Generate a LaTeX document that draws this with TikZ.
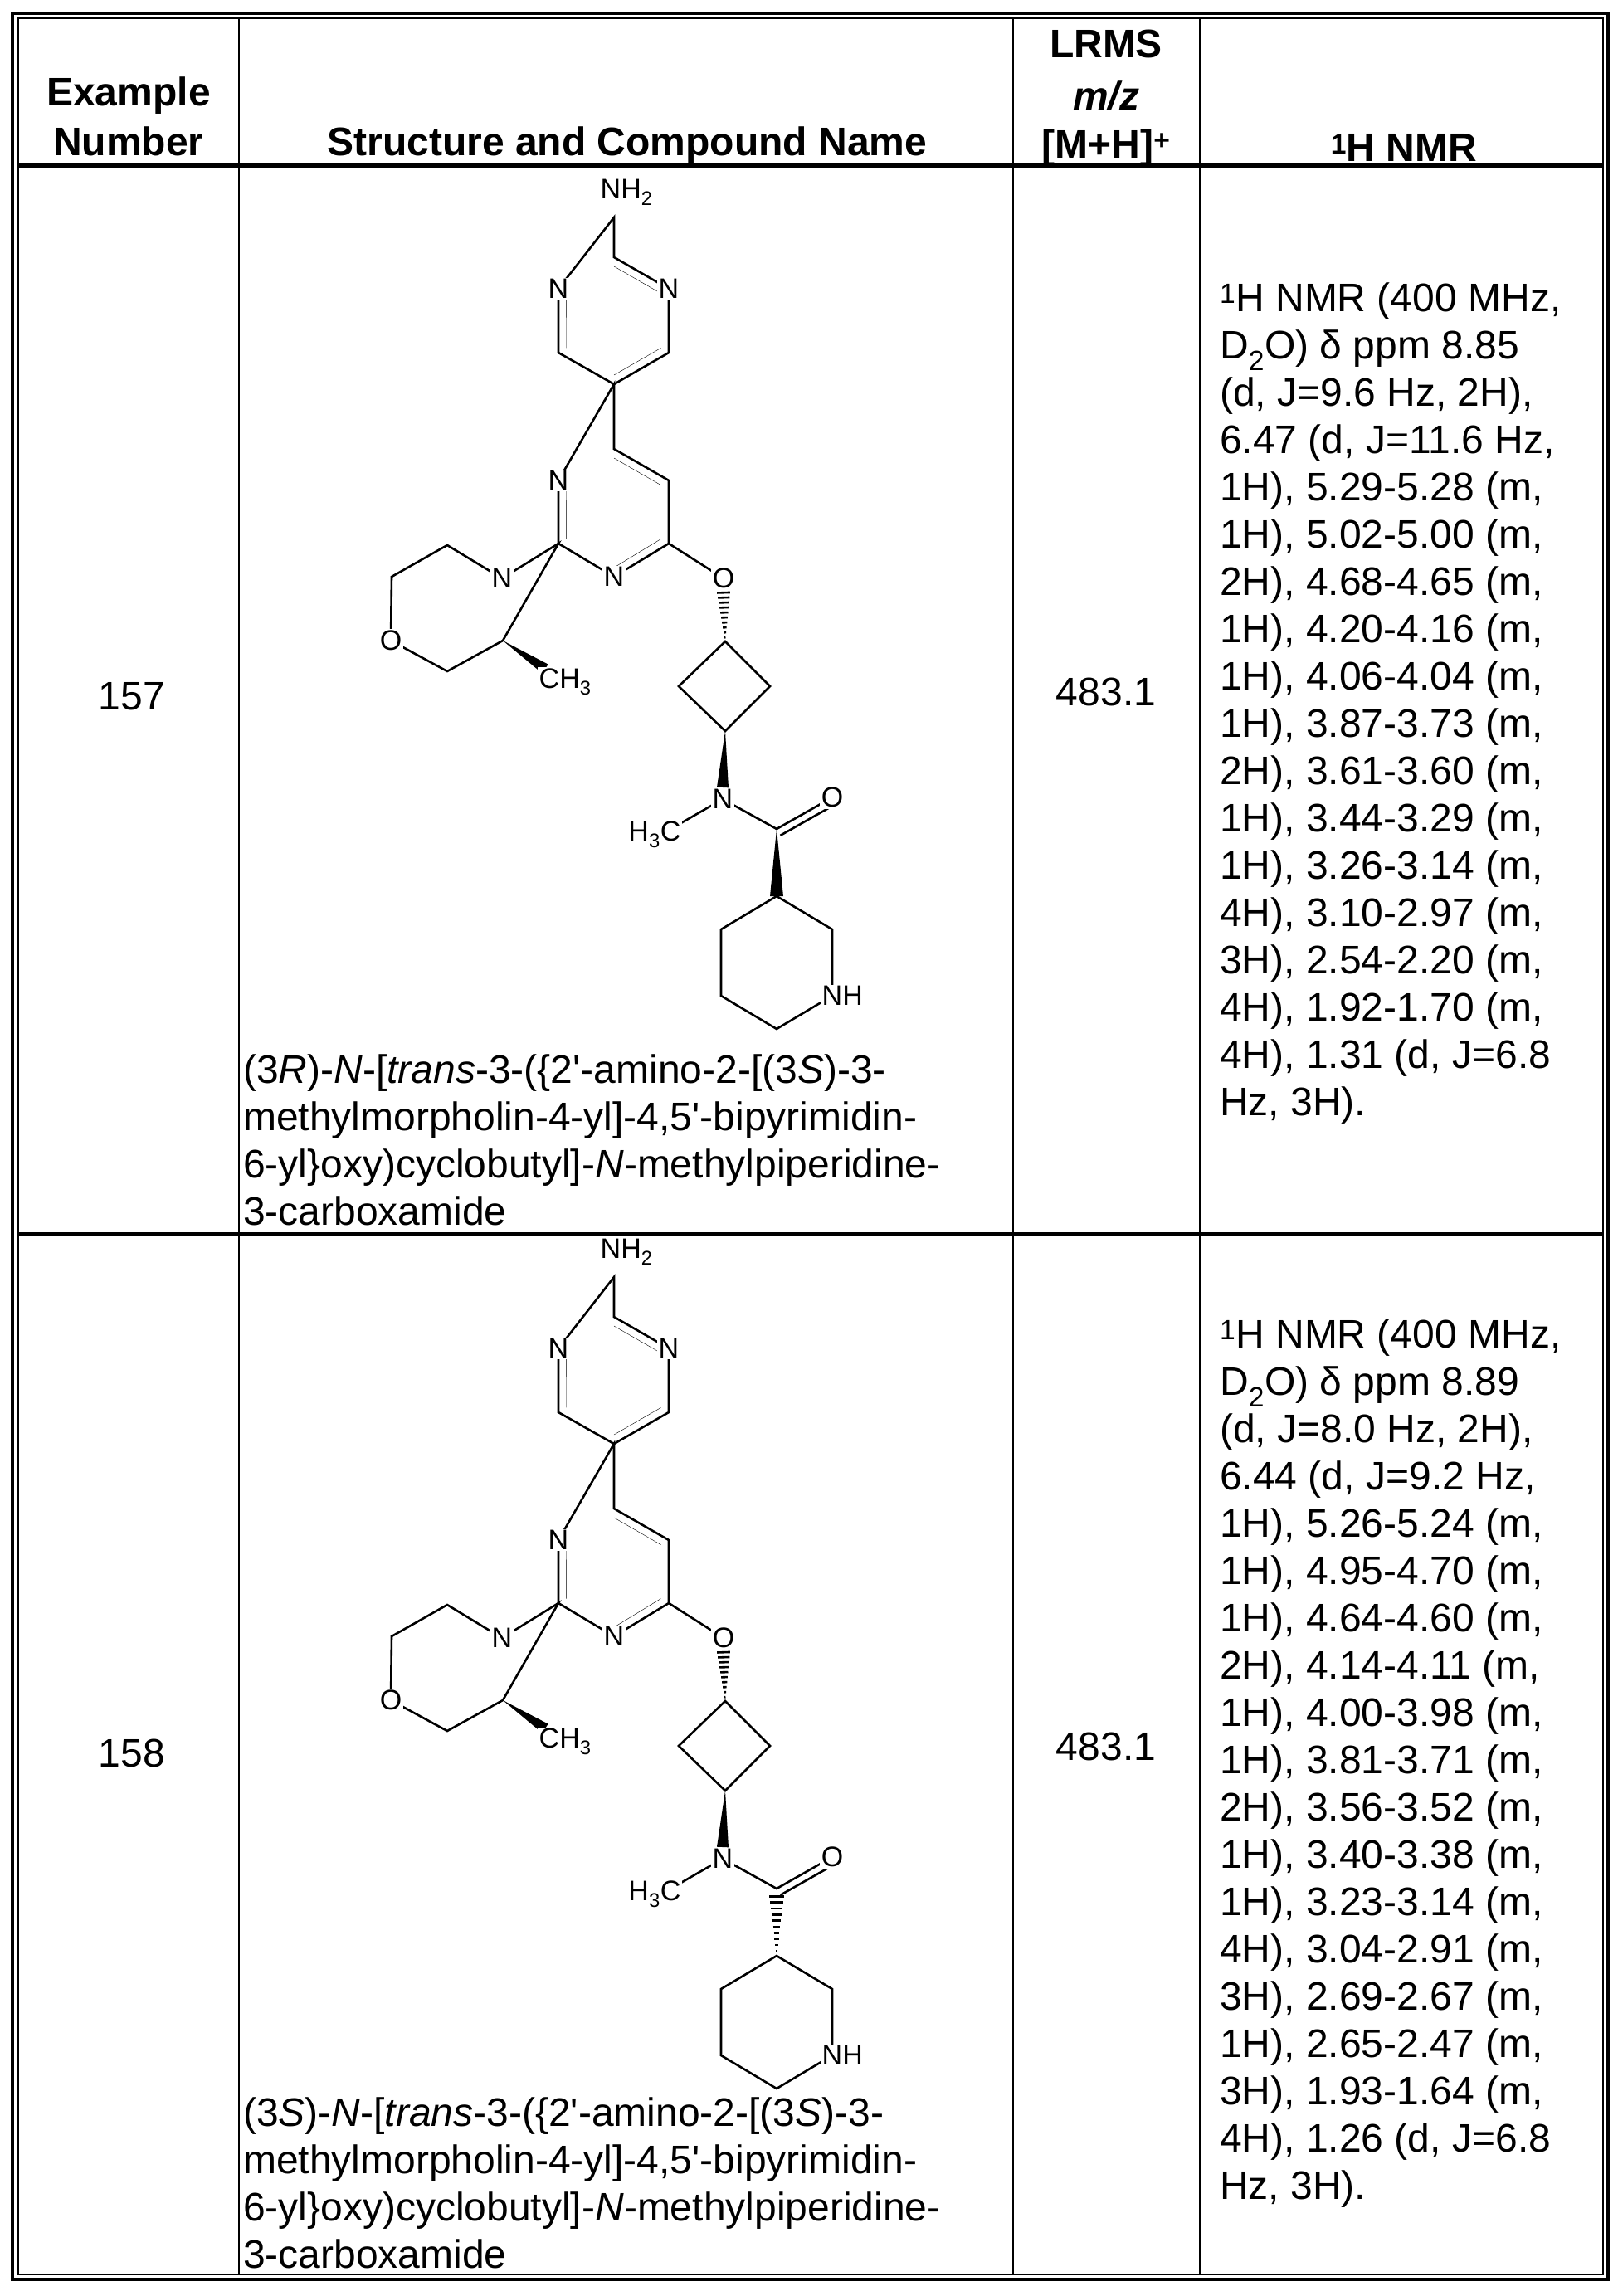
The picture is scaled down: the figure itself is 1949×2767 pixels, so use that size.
\documentclass[tikz,border=0pt]{standalone}
\usepackage{fontspec}
\setmainfont{Liberation Sans}
\usetikzlibrary{calc}
\newcommand\chemf{\fontsize{34}{40}\selectfont}
\newcommand\txtf{\fontsize{48}{57}\selectfont}
\newcommand\wedgeb[3]{\fill (#1) -- ($(#2)!#3!90:(#1)$) -- ($(#2)!#3!-90:(#1)$) -- cycle;}
\newcommand\hashb[3]{\foreach \t in {0.08,0.18,...,1.0}{\draw[line width=2.6pt] ($(#1)!\t!(#2)!{\t*#3}!90:(#2)$) -- ($(#1)!\t!(#2)!{\t*#3}!-90:(#2)$);}}
\newcommand\dbl[3]{\draw ($(#1)!11pt!(#3)$) -- ($(#2)!11pt!(#3)$);}
\newcommand\molecule[2]{%
 \coordinate (#1nh) at (740,262);
 \coordinate (#1a2) at (740,310); \coordinate (#1an1) at (673,348); \coordinate (#1an3) at (806,348);
 \coordinate (#1ac6) at (673,425); \coordinate (#1ac4) at (806,425); \coordinate (#1ac5) at (740,463);
 \coordinate (#1actr) at (740,386);
 \coordinate (#1b4) at (740,541); \coordinate (#1bn3) at (673,579); \coordinate (#1bc5) at (806,579);
 \coordinate (#1bc2) at (673,655); \coordinate (#1bc6) at (806,655); \coordinate (#1bn1) at (740,695);
 \coordinate (#1bctr) at (740,618);
 \coordinate (#1eo) at (872,697);
 \coordinate (#1mn) at (605,697); \coordinate (#1m1) at (539,657); \coordinate (#1m2) at (472,695);
 \coordinate (#1mo) at (471,772); \coordinate (#1m3) at (539,809); \coordinate (#1mc3) at (606,772);
 \coordinate (#1me) at (657,806);
 \coordinate (#1ct) at (874,773); \coordinate (#1cl) at (818,827); \coordinate (#1cr) at (928,827); \coordinate (#1cb) at (874,881);
 \coordinate (#1am) at (871,963); \coordinate (#1mc) at (805,1001); \coordinate (#1cc) at (936,999); \coordinate (#1co) at (1003,961);
 \coordinate (#1p3) at (936,1080); \coordinate (#1p2) at (1003,1120); \coordinate (#1pn) at (1003,1200);
 \coordinate (#1p6) at (936,1240); \coordinate (#1p5) at (869,1200); \coordinate (#1p4) at (869,1120);
 \draw[bond] (#1nh) -- (#1a2) -- (#1an3) -- (#1ac4) -- (#1ac5) -- (#1ac6) -- (#1an1) -- cycle;
 \dbl{#1a2}{#1an3}{#1actr} \dbl{#1an1}{#1ac6}{#1actr} \dbl{#1ac4}{#1ac5}{#1actr}
 \draw[bond] (#1ac5) -- (#1b4) -- (#1bc5) -- (#1bc6) -- (#1bn1) -- (#1bc2) -- (#1bn3) -- cycle;
 \dbl{#1b4}{#1bc5}{#1bctr} \dbl{#1bn3}{#1bc2}{#1bctr} \dbl{#1bc6}{#1bn1}{#1bctr}
 \draw[bond] (#1bc6) -- (#1eo);
 \draw[bond] (#1bc2) -- (#1mn) -- (#1m1) -- (#1m2) -- (#1mo) -- (#1m3) -- (#1mc3) -- cycle;
 \wedgeb{#1mc3}{#1me}{6.5pt}
 \hashb{#1ct}{$(#1eo)+(0,16)$}{8pt}
 \draw[bond] (#1ct) -- (#1cr) -- (#1cb) -- (#1cl) -- cycle;
 \wedgeb{#1cb}{$(#1am)+(0,-14)$}{7pt}
 \draw[bond] (#1mc) -- (#1am) -- (#1cc) -- (#1co);
 \draw[bond] ($(#1cc)!9pt!-90:(#1co)$) -- ($(#1co)!9pt!90:(#1cc)$);
 \draw[bond] (#1p3) -- (#1p2) -- (#1pn) -- (#1p6) -- (#1p5) -- (#1p4) -- cycle;
 #2
 \node[atom, anchor=west] (#1lnh2) at (722,232) {NH\textsubscript{2}};
 \foreach \q in {an1,an3,bn3,bn1,mn,am} {\node[atom] (#1l\q) at (#1\q) {N};}
 \foreach \q in {mo,eo,co} {\node[atom] (#1l\q) at (#1\q) {O};}
 \node[atom, anchor=west] (#1lme) at (648,822) {CH\textsubscript{3}};
 \node[atom, anchor=east] (#1lmc) at (822,1006) {H\textsubscript{3}C};
 \node[atom, anchor=west] (#1lpn) at (989,1200) {NH};
}
\begin{document}
\begin{tikzpicture}[x=1pt,y=-1pt,
  bond/.style={line width=2.6pt, line join=miter},
  atom/.style={fill=white, inner sep=1.5pt, font=\chemf},
  tline/.style={line width=2.5pt},
  txt/.style={font=\txtf, inner sep=0pt},
  hdr/.style={font=\txtf\bfseries, inner sep=0pt, anchor=base}]
\useasboundingbox[fill=white] (0,0) rectangle (1949,2767);
% table frame
\draw[line width=4pt] (15,16) rectangle (1938,2747);
\draw[line width=2pt] (22,22) rectangle (1932,2741);
\draw[line width=5pt] (22,200) -- (1932,200);
\draw[line width=4.5pt] (22,1487) -- (1932,1487);
\foreach \xx in {288,1221,1446} {\draw[tline] (\xx,22) -- (\xx,2741);}
% header
\node[hdr] (h1a) at (155,128) {Example};
\node[hdr] (h1b) at (155,188) {Number};
\node[hdr] (h2) at (756,188) {Structure and Compound Name};
\node[hdr] (h3a) at (1333,70) {LRMS};
\node[hdr] (h3b) at (1333,133) {\itshape m/z};
\node[hdr] (h3c) at (1333,190) {[M+H]\textsuperscript{+}};
\node[hdr] (h4) at (1692,195) {\textsuperscript{1}H NMR};
% row 1
\node[txt, anchor=base] (n157) at (159,855) {157};
\node[txt, anchor=base] (m157) at (1333,850) {483.1};
\molecule{A}{\wedgeb{Acc}{Ap3}{8pt}}
\foreach \t [count=\i] in {{(3\textit{R})-\textit{N}-[\textit{trans}-3-(\{2\textquotesingle-amino-2-[(3\textit{S})-3-},
 {methylmorpholin-4-yl]-4,5\textquotesingle-bipyrimidin-},
 {6-yl\}oxy)cyclobutyl]-\textit{N}-methylpiperidine-},
 {3-carboxamide}}
 {\node[txt, anchor=base west] (na\i) at (293,1305+57*\i-57) {\t};}
\foreach \t [count=\i] in {{\textsuperscript{1}H NMR (400 MHz,},{D\textsubscript{2}O) δ ppm 8.85},
 {(d, J=9.6 Hz, 2H),},{6.47 (d, J=11.6 Hz,},{1H), 5.29-5.28 (m,},{1H), 5.02-5.00 (m,},
 {2H), 4.68-4.65 (m,},{1H), 4.20-4.16 (m,},{1H), 4.06-4.04 (m,},{1H), 3.87-3.73 (m,},
 {2H), 3.61-3.60 (m,},{1H), 3.44-3.29 (m,},{1H), 3.26-3.14 (m,},{4H), 3.10-2.97 (m,},
 {3H), 2.54-2.20 (m,},{4H), 1.92-1.70 (m,},{4H), 1.31 (d, J=6.8},{Hz, 3H).}}
 {\node[txt, anchor=base west] (ra\i) at (1470,375+57*\i-57) {\t};}
% row 2
\node[txt, anchor=base] (n158) at (159,2129) {158};
\node[txt, anchor=base] (m158) at (1333,2121) {483.1};
\begin{scope}[shift={(0,1277)}]
\molecule{B}{\hashb{Bp3}{$(Bcc)+(0,8)$}{9pt}}
\end{scope}
\foreach \t [count=\i] in {{(3\textit{S})-\textit{N}-[\textit{trans}-3-(\{2\textquotesingle-amino-2-[(3\textit{S})-3-},
 {methylmorpholin-4-yl]-4,5\textquotesingle-bipyrimidin-},
 {6-yl\}oxy)cyclobutyl]-\textit{N}-methylpiperidine-},
 {3-carboxamide}}
 {\node[txt, anchor=base west] (nb\i) at (293,2562+57*\i-57) {\t};}
\foreach \t [count=\i] in {{\textsuperscript{1}H NMR (400 MHz,},{D\textsubscript{2}O) δ ppm 8.89},
 {(d, J=8.0 Hz, 2H),},{6.44 (d, J=9.2 Hz,},{1H), 5.26-5.24 (m,},{1H), 4.95-4.70 (m,},
 {1H), 4.64-4.60 (m,},{2H), 4.14-4.11 (m,},{1H), 4.00-3.98 (m,},{1H), 3.81-3.71 (m,},
 {2H), 3.56-3.52 (m,},{1H), 3.40-3.38 (m,},{1H), 3.23-3.14 (m,},{4H), 3.04-2.91 (m,},
 {3H), 2.69-2.67 (m,},{1H), 2.65-2.47 (m,},{3H), 1.93-1.64 (m,},{4H), 1.26 (d, J=6.8},{Hz, 3H).}}
 {\node[txt, anchor=base west] (rb\i) at (1470,1624+57*\i-57) {\t};}
\end{tikzpicture}
\end{document}
